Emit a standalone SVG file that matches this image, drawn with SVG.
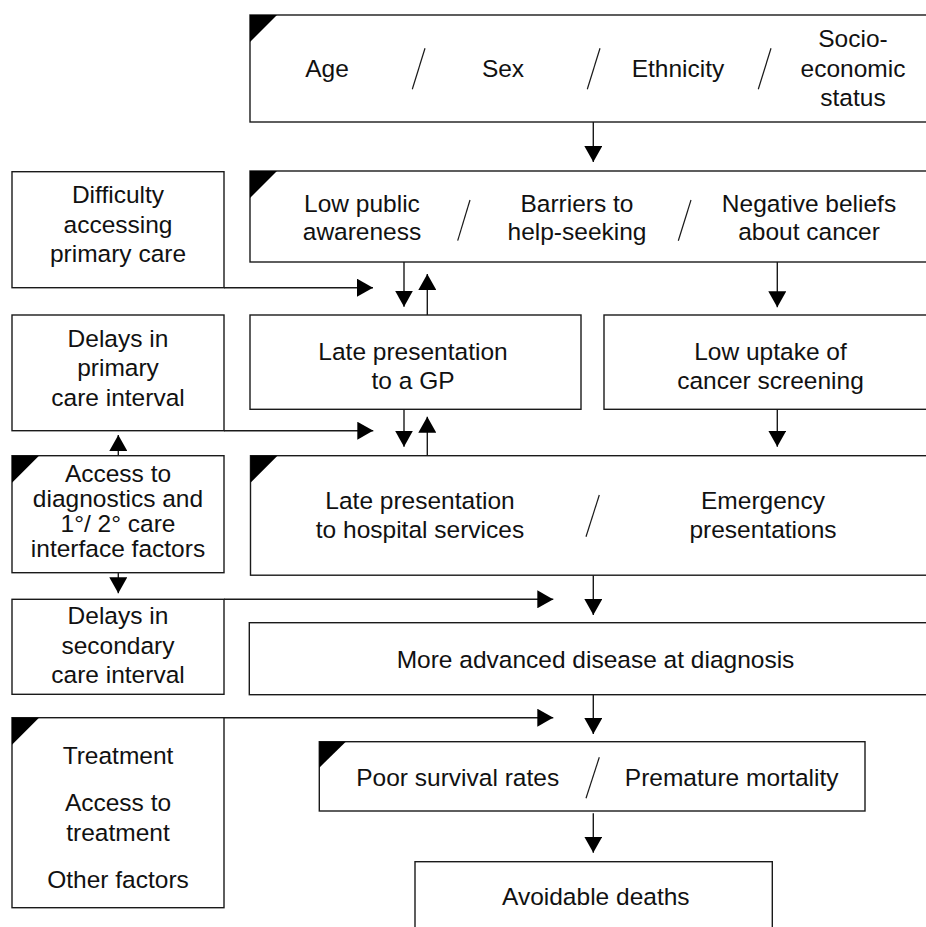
<svg xmlns="http://www.w3.org/2000/svg" width="926" height="927" viewBox="0 0 926 927">
<defs>
<style>
.box{fill:#fff;stroke:#1a1a1a;stroke-width:1.4}
.tri{fill:#000}
.t{font-family:"Liberation Sans",Arial,Helvetica,sans-serif;font-size:24.5px;fill:#111;text-anchor:middle}
.sl{stroke:#1a1a1a;stroke-width:1.2}
.c{stroke:#1a1a1a;stroke-width:1.4;fill:none;marker-end:url(#ah)}
</style>
<marker id="ah" markerUnits="userSpaceOnUse" markerWidth="16" markerHeight="18" refX="16" refY="9" orient="auto" viewBox="0 0 16 18">
<path d="M0,0 L16,9 L0,18 z" fill="#000"/>
</marker>
</defs>
<rect width="926" height="927" fill="#fff"/>

<g id="demographics">
<rect class="box" x="250" y="15" width="690" height="107"/>
<path class="tri" d="M250,15 h27 L250,42 z"/>
<text class="t" x="327" y="77">Age</text>
<line class="sl" x1="412.3" y1="89.3" x2="425" y2="48.3"/>
<text class="t" x="503" y="77">Sex</text>
<line class="sl" x1="587.3" y1="89.3" x2="600" y2="48.3"/>
<text class="t" x="678" y="77">Ethnicity</text>
<line class="sl" x1="758.3" y1="89.3" x2="771" y2="48.3"/>
<text class="t" x="853"><tspan x="853" y="47">Socio-</tspan><tspan x="853" y="77">economic</tspan><tspan x="853" y="106">status</tspan></text>
</g>

<g id="awareness">
<rect class="box" x="250" y="171" width="690" height="91"/>
<path class="tri" d="M250,171 h27 L250,198 z"/>
<text class="t"><tspan x="362" y="211.7">Low public</tspan><tspan x="362" y="240">awareness</tspan></text>
<line class="sl" x1="457.7" y1="240.7" x2="470" y2="200"/>
<text class="t"><tspan x="577" y="211.7">Barriers to</tspan><tspan x="577" y="240">help-seeking</tspan></text>
<line class="sl" x1="678.3" y1="240.7" x2="691" y2="200"/>
<text class="t"><tspan x="809" y="211.7">Negative beliefs</tspan><tspan x="809" y="240">about cancer</tspan></text>
</g>

<g id="difficulty">
<rect class="box" x="12" y="171.7" width="212" height="116"/>
<text class="t"><tspan x="118" y="203">Difficulty</tspan><tspan x="118" y="232.5">accessing</tspan><tspan x="118" y="261.7">primary care</tspan></text>
</g>

<g id="late-gp">
<rect class="box" x="250" y="315" width="331" height="94.3"/>
<text class="t"><tspan x="413" y="360">Late presentation</tspan><tspan x="413" y="389.3">to a GP</tspan></text>
</g>

<g id="screening">
<rect class="box" x="604" y="315" width="336" height="94.3"/>
<text class="t"><tspan x="770.5" y="360">Low uptake of</tspan><tspan x="770.5" y="389.3">cancer screening</tspan></text>
</g>

<g id="delays-primary">
<rect class="box" x="12" y="315" width="212" height="115.7"/>
<text class="t"><tspan x="118" y="346.7">Delays in</tspan><tspan x="118" y="376.3">primary</tspan><tspan x="118" y="406">care interval</tspan></text>
</g>

<g id="access-diagnostics">
<rect class="box" x="12" y="455.7" width="212" height="117"/>
<path class="tri" d="M12,455.7 h27 L12,482.7 z"/>
<text class="t"><tspan x="118" y="481.7">Access to</tspan><tspan x="118" y="506.5">diagnostics and</tspan><tspan x="118" y="531.7">1°/ 2° care</tspan><tspan x="118" y="556.7">interface factors</tspan></text>
</g>

<g id="late-hospital">
<rect class="box" x="250.5" y="455.7" width="690" height="119.5"/>
<path class="tri" d="M250.5,455.7 h27 L250.5,482.7 z"/>
<text class="t"><tspan x="420" y="509">Late presentation</tspan><tspan x="420" y="538.3">to hospital services</tspan></text>
<line class="sl" x1="586" y1="536.7" x2="599.3" y2="495"/>
<text class="t"><tspan x="763" y="508.5">Emergency</tspan><tspan x="763" y="538.3">presentations</tspan></text>
</g>

<g id="delays-secondary">
<rect class="box" x="12" y="599.3" width="212" height="95"/>
<text class="t"><tspan x="118" y="624.3">Delays in</tspan><tspan x="118" y="653.5">secondary</tspan><tspan x="118" y="683.3">care interval</tspan></text>
</g>

<g id="advanced-disease">
<rect class="box" x="249.3" y="622.7" width="690" height="72"/>
<text class="t" x="595.5" y="668.3">More advanced disease at diagnosis</text>
</g>

<g id="treatment">
<rect class="box" x="12" y="717.7" width="212" height="190"/>
<path class="tri" d="M12,717.7 h27 L12,744.7 z"/>
<text class="t"><tspan x="118" y="764.3">Treatment</tspan><tspan x="118" y="811">Access to</tspan><tspan x="118" y="841">treatment</tspan><tspan x="118" y="887.7">Other factors</tspan></text>
</g>

<g id="survival">
<rect class="box" x="319.3" y="741.7" width="545.7" height="69.3"/>
<path class="tri" d="M319.3,741.7 h26.5 L319.3,767.7 z"/>
<text class="t" x="457.7" y="785.7">Poor survival rates</text>
<line class="sl" x1="586" y1="798.3" x2="599.3" y2="757.3"/>
<text class="t" x="731.7" y="785.7">Premature mortality</text>
</g>

<g id="avoidable-deaths">
<rect class="box" x="415" y="861.7" width="357.3" height="80"/>
<text class="t" x="595.8" y="905">Avoidable deaths</text>
</g>

<g id="connectors">
<line class="c" x1="593.3" y1="122" x2="593.3" y2="162"/>
<line class="c" x1="777.3" y1="262" x2="777.3" y2="307.3"/>
<line class="c" x1="777.3" y1="409.3" x2="777.3" y2="446.7"/>
<line class="c" x1="224" y1="287.7" x2="373" y2="287.7"/>
<line class="c" x1="404" y1="262" x2="404" y2="306.7"/>
<line class="c" x1="427.3" y1="315" x2="427.3" y2="274"/>
<line class="c" x1="224" y1="430.7" x2="373.3" y2="430.7"/>
<line class="c" x1="404" y1="409.3" x2="404" y2="446.7"/>
<line class="c" x1="427.3" y1="455.7" x2="427.3" y2="416.7"/>
<line class="c" x1="118.3" y1="455.7" x2="118.3" y2="435"/>
<line class="c" x1="118.3" y1="572.7" x2="118.3" y2="593.3"/>
<line class="c" x1="224" y1="599.3" x2="553.3" y2="599.3"/>
<line class="c" x1="593.3" y1="575.2" x2="593.3" y2="615"/>
<line class="c" x1="224" y1="717.7" x2="553.3" y2="717.7"/>
<line class="c" x1="593.3" y1="694.7" x2="593.3" y2="734"/>
<line class="c" x1="593.3" y1="813.3" x2="593.3" y2="852.7"/>
</g>
</svg>
